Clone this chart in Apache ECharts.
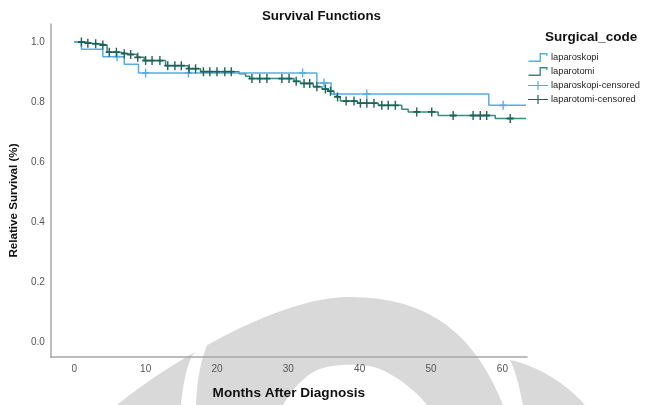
<!DOCTYPE html>
<html><head><meta charset="utf-8">
<script src="https://cdn.jsdelivr.net/npm/echarts@6/dist/echarts.min.js"></script>
<style>html,body{margin:0;padding:0;background:#fff}#c{width:656px;height:405px}</style>
</head><body><div id="c"></div>
<script>
// Laparoskopi: step times and survival after each step
const lapTimes = [0, 1.0, 4.0, 7.0, 9.0, 34.0, 36.0, 58.1, 63.3];
const lapSurv  = [1.0, 0.976, 0.951, 0.926, 0.897, 0.863, 0.827, 0.789, 0.789];
const lapCensorTimes = [6.0, 10.0, 16.0, 32.0, 35.0, 41.0, 60.1];

// Laparotomi
const tomiTimes = [0, 1.5, 2.5, 3.5, 4.6, 6.5, 7.5, 8.8, 9.8, 12.8, 16.0, 17.7, 23.1, 24.0, 24.6, 30.8, 31.7, 33.5, 34.7, 35.6, 36.4, 36.8, 37.3, 39.7, 42.6, 45.9, 46.8, 51.0, 59.0, 63.3];
const tomiSurv  = [1.0, 0.996, 0.994, 0.99, 0.966, 0.961, 0.958, 0.949, 0.938, 0.921, 0.911, 0.901, 0.894, 0.886, 0.878, 0.869, 0.862, 0.851, 0.843, 0.836, 0.825, 0.817, 0.803, 0.796, 0.789, 0.776, 0.767, 0.755, 0.745, 0.745];
const tomiCensorTimes = [1.0, 1.9, 3.0, 4.0, 4.9, 5.9, 7.0, 7.9, 8.9, 10.0, 10.9, 12.0, 13.1, 14.1, 15.0, 16.1, 17.0, 18.1, 19.0, 20.0, 21.1, 22.0, 24.9, 26.0, 27.0, 29.1, 30.1, 31.1, 32.2, 33.0, 34.0, 35.2, 35.9, 36.9, 38.1, 39.2, 40.1, 41.0, 42.0, 43.1, 44.0, 45.0, 48.0, 50.1, 53.1, 55.9, 56.9, 57.8, 61.1];

const xTicks = [0, 10, 20, 30, 40, 50, 60];
const yTicks = [0.0, 0.2, 0.4, 0.6, 0.8, 1.0];
const seriesNames = ['laparoskopi', 'laparotomi', 'laparoskopi-censored', 'laparotomi-censored'];

function stepValue(times, surv, t) {
  let v = surv[0];
  for (let i = 0; i < times.length; i++) { if (times[i] <= t) v = surv[i]; }
  return v;
}
const lapLine = lapTimes.map((t, i) => [t, lapSurv[i]]);
const tomiLine = tomiTimes.map((t, i) => [t, tomiSurv[i]]);
const lapCens = lapCensorTimes.map(t => [t, stepValue(lapTimes, lapSurv, t)]);
const tomiCens = tomiCensorTimes.map(t => [t, stepValue(tomiTimes, tomiSurv, t)]);

const BLUE = '#56ade6', GREEN = '#3a8a7e', GREEN_D = '#1d6258';
const FONT = '"Liberation Sans", Arial, sans-serif';
const plus = 'path://M3.6,0 L5.4,0 L5.4,9 L3.6,9 Z M0,3.6 L9,3.6 L9,5.4 L0,5.4 Z';
const stepIcon = 'path://M0,7.6 L11,7.6 L11,0 L19,0 L19,3 L17.8,3 L17.8,1.4 L12.4,1.4 L12.4,9 L0,9 Z';
const censIcon = 'path://M0,3.9 L20,3.9 L20,5.1 L0,5.1 Z M9.4,0 L10.6,0 L10.6,9 L9.4,9 Z';
const WM = '#d9d9d9';

// background watermark outline helper: sample cubic segments into polygon points
function shape(start, segs) {
  const pts = [start];
  let p0 = start;
  segs.forEach(s => {
    if (s.length === 1) { pts.push(s[0]); p0 = s[0]; return; }
    const [c1, c2, p3] = s;
    for (let k = 1; k <= 16; k++) {
      const u = k / 16, a = (1 - u) ** 3, b = 3 * u * (1 - u) ** 2, c = 3 * u * u * (1 - u), d = u ** 3;
      pts.push([a * p0[0] + b * c1[0] + c * c2[0] + d * p3[0], a * p0[1] + b * c1[1] + c * c2[1] + d * p3[1]]);
    }
    p0 = p3;
  });
  return pts;
}
const wmElements = [
  {fill: WM, pts: shape([117, 405], [[[150, 378], [195, 350], [240, 328]], [[285, 307], [320, 297], [350, 297]], [[430, 297], [475, 335], [503, 405]]])},
  {fill: '#fff', pts: shape([181, 405], [[[183, 385], [186, 368], [192, 356]], [[200, 345], [206, 340], [212, 336]], [[203, 350], [197, 375], [196, 405]]])},
  {fill: '#fff', pts: shape([283, 405], [[[292, 390], [303, 377], [317, 370]], [[335, 363], [365, 363], [380, 369]], [[398, 377], [415, 390], [427, 405]]])},
  {fill: WM, pts: shape([510, 360], [[[535, 365], [565, 382], [585, 405]], [[523, 405]], [[519, 385], [515, 370], [510, 360]]])}
].map((e, i) => ({type: 'polygon', z: -20 + i, silent: true, shape: {points: e.pts}, style: {fill: e.fill}}));

const chart = echarts.init(document.getElementById('c'), null, {renderer: 'canvas'});
chart.setOption({
  animation: false,
  backgroundColor: '#fff',
  graphic: {elements: wmElements},
  title: [
    {text: 'Survival Functions', left: 257, top: 5,
     textStyle: {fontFamily: FONT, fontSize: 13.3, fontWeight: 'bold', color: '#111'}},
    {text: 'Surgical_code', left: 540, top: 25,
     textStyle: {fontFamily: FONT, fontSize: 13.5, fontWeight: 'bold', color: '#111'}}
  ],
  legend: {
    orient: 'vertical', left: 523, top: 48, itemGap: 5, itemWidth: 20, itemHeight: 9,
    textStyle: {fontFamily: FONT, fontSize: 9.3, color: '#222', padding: [0, 0, 0, -2]},
    data: [
      {name: seriesNames[0], icon: stepIcon},
      {name: seriesNames[1], icon: stepIcon},
      {name: seriesNames[2], icon: censIcon},
      {name: seriesNames[3], icon: censIcon}
    ]
  },
  grid: {left: 50, right: 129, top: 24, bottom: 46, containLabel: false},
  xAxis: {
    type: 'value', min: -3.29, max: 63.45,
    name: 'Months After Diagnosis', nameLocation: 'middle', nameGap: 29,
    nameTextStyle: {fontFamily: FONT, fontSize: 13.6, fontWeight: 'bold', color: '#111'},
    axisLine: {onZero: false, lineStyle: {color: '#a6a6a6', width: 1.5}},
    axisTick: {show: false},
    splitLine: {show: false},
    axisLabel: {customValues: xTicks, fontFamily: FONT, fontSize: 10, color: '#555', margin: 7,
      formatter: v => String(Math.round(v))}
  },
  yAxis: {
    type: 'value', min: -0.05, max: 1.06,
    name: 'Relative Survival (%)', nameLocation: 'middle', nameGap: 25, nameRotate: 90,
    nameTextStyle: {fontFamily: FONT, fontSize: 11.6, fontWeight: 'bold', color: '#111', padding: [0, 20, 0, 0]},
    axisLine: {show: true, onZero: false, lineStyle: {color: '#a6a6a6', width: 1.5}},
    axisTick: {show: false},
    splitLine: {show: false},
    axisLabel: {customValues: yTicks, fontFamily: FONT, fontSize: 10, color: '#555', margin: 6,
      formatter: v => v.toFixed(1)}
  },
  series: [
    {name: seriesNames[0], type: 'line', step: 'end', data: lapLine, showSymbol: false, symbol: 'none',
     color: BLUE, lineStyle: {color: BLUE, width: 1.5}, itemStyle: {color: BLUE}, z: 3},
    {name: seriesNames[1], type: 'line', step: 'end', data: tomiLine, showSymbol: false, symbol: 'none',
     color: GREEN, lineStyle: {color: GREEN, width: 1.5}, itemStyle: {color: GREEN}, z: 2},
    {name: seriesNames[2], type: 'scatter', data: lapCens, symbol: plus, symbolSize: [7, 9],
     itemStyle: {color: BLUE, opacity: 1}, z: 4},
    {name: seriesNames[3], type: 'scatter', data: tomiCens, symbol: plus, symbolSize: [7, 9],
     itemStyle: {color: GREEN_D, opacity: 1}, z: 4}
  ]
});
</script></body></html>
